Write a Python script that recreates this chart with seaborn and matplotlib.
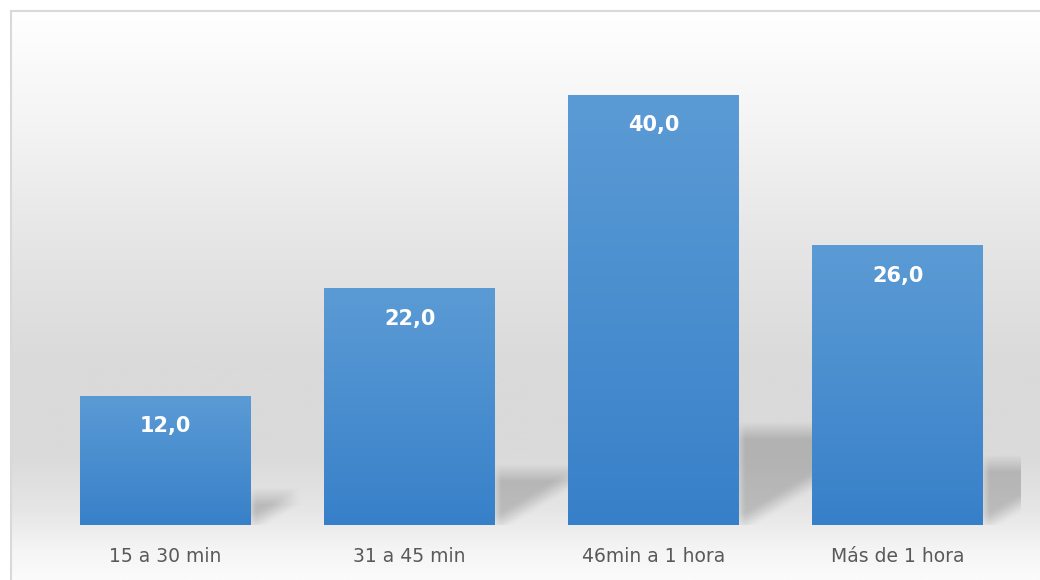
import numpy as np
import pandas as pd
import seaborn as sns
import matplotlib
matplotlib.use("Agg")
import matplotlib.pyplot as plt
from matplotlib.colors import LinearSegmentedColormap
from matplotlib.patches import Rectangle

categories = ["15 a 30 min", "31 a 45 min", "46min a 1 hora", "Más de 1 hora"]
values = [12.0, 22.0, 40.0, 26.0]

df = pd.DataFrame({"cat": categories, "val": values})

sns.set_style("white")
plt.rcParams["font.family"] = ["DejaVu Sans"]

fig = plt.figure(figsize=(10.4, 5.8), dpi=100)

# background gradient (white top, gray middle, light bottom)
bg = fig.add_axes([10 / 1040, 0, 1 - 10 / 1040, 1 - 11 / 580], zorder=-1)
bg_cmap = LinearSegmentedColormap.from_list(
    "bg",
    [(0.0, "#ffffff"), (0.18, "#f5f5f5"), (0.40, "#e6e6e6"), (0.62, "#dadada"),
     (0.78, "#dadada"), (0.88, "#e6e6e6"), (0.95, "#f5f5f5"), (1.0, "#fbfbfb")])
grad = np.linspace(0, 1, 256).reshape(-1, 1)
bg.imshow(grad, aspect="auto", cmap=bg_cmap, extent=[0, 1, 1, 0])
bg.set_axis_off()

# border of the chart area
fig.patches.append(Rectangle((10.5 / 1040, -0.5), 2, 1 - 10.5 / 580 + 0.5,
                             transform=fig.transFigure, fill=False,
                             edgecolor="#d9d9d9", lw=1.5))

ax = fig.add_axes([43.5 / 1040, 1 - 525 / 580, (1020 - 43.5) / 1040, 484 / 580])
ax.set_facecolor("none")

sns.barplot(data=df, x="cat", y="val", color="#3a82c9", saturation=1,
            width=0.7, linewidth=0, edgecolor="none", ax=ax, zorder=3)
ax.set_xlim(-0.5, 3.5)
ax.set_ylim(0, 45)

bar_cmap = LinearSegmentedColormap.from_list("bar", ["#3780c9", "#4a8ecf", "#5b9bd5"])
slope = 13.6
dx = 0.33


def smooth(a, n, axis):
    k = np.ones(n) / n
    return np.apply_along_axis(lambda r: np.convolve(r, k, mode="same"), axis, a)


for p in ax.patches:
    x0, w, h = p.get_x(), p.get_width(), p.get_height()
    # vertical gradient inside bar
    im = ax.imshow(np.linspace(0, 1, 128).reshape(-1, 1), aspect="auto",
                   cmap=bar_cmap, origin="lower",
                   extent=[x0, x0 + w, 0, h], zorder=3)
    im.set_clip_path(p)

    # soft perspective shadow behind the bar
    xr = x0 + w
    hs = 0.22 * h
    xs = np.linspace(xr - 0.15, xr + dx + 0.15, 300)
    ys = np.linspace(-3.0, hs + 3.0, 300)
    X, Y = np.meshgrid(xs, ys)
    mask = ((X >= xr) & (X <= xr + dx) & (Y <= hs) &
            (Y >= slope * (X - xr))).astype(float)
    mask = smooth(mask, 21, 1)
    mask = smooth(mask, int(300 * 1.6 / (hs + 6.0)) + 1, 0)
    rgba = np.zeros(mask.shape + (4,))
    rgba[..., :3] = 0.3
    rgba[..., 3] = mask * 0.28
    ax.imshow(rgba, aspect="auto", origin="lower",
              extent=[xs[0], xs[-1], ys[0], ys[-1]], zorder=2,
              interpolation="bilinear")

    ax.annotate(f"{h:.1f}".replace(".", ","), (x0 + w / 2, h),
                xytext=(0, -22), textcoords="offset points",
                ha="center", va="center", color="white",
                fontsize=15, fontweight="bold", zorder=5)

ax.set_xlim(-0.5, 3.5)
ax.set_ylim(0, 45)
ax.set_xlabel("")
ax.set_ylabel("")
ax.set_yticks([])
ax.tick_params(axis="x", length=0, pad=16, labelsize=13.5, labelcolor="#595959")
sns.despine(ax=ax, left=True, bottom=True)

fig.savefig("out.png", dpi=100)
